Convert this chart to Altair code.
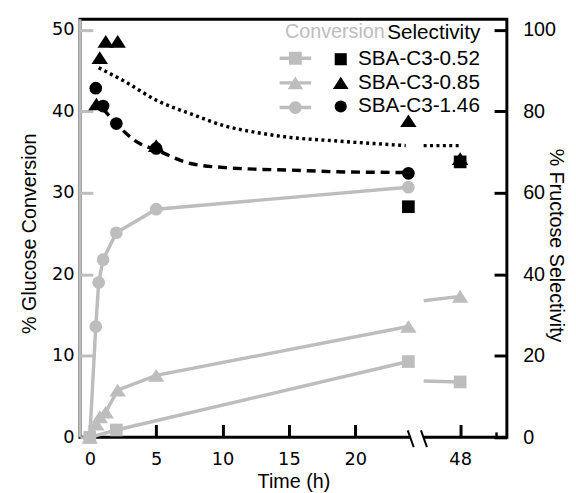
import altair as alt
import pandas as pd

# ---------------- data ----------------
SERIES = ["SBA-C3-0.52", "SBA-C3-0.85", "SBA-C3-1.46"]

# glucose conversion (%)
sq_t = [0, 2, 24, 48]
sq_conv = [0, 0.9, 9.3, 6.8]
tri_t = [0, 0.5, 0.75, 1.2, 2.1, 5, 24, 48]
tri_conv = [0, 1.6, 2.5, 3.1, 5.8, 7.6, 13.6, 17.3]
circ_t = [0, 0.45, 0.67, 1.0, 2.0, 5.0, 24]
circ_conv = [0, 13.6, 19.0, 21.8, 25.1, 28.0, 30.7]
# conversion value where the 48 h segment resumes after the axis break
resume_conv = {"SBA-C3-0.52": 6.9, "SBA-C3-0.85": 16.75}

# fructose selectivity (%)
sq_sel_t = [24, 48]
sq_sel = [56.6, 67.6]
tri_sel_t = [0.5, 0.75, 1.2, 2.1, 5, 24, 48]
tri_sel = [81.8, 93.2, 97.2, 97.2, 71.6, 77.7, 68.4]
circ_sel_t = [0.45, 1.0, 2.0, 5.0, 24]
circ_sel = [85.7, 81.3, 77.0, 70.9, 64.8]

# fitted selectivity trends
dot_t = [0.67, 2.6, 5.1, 7.6, 10.2, 12.6, 15.1, 18.3, 23.8]
dot_sel = [90.7, 87.4, 82.6, 79.4, 76.4, 74.8, 73.6, 72.8, 71.6]
dot_after = [71.6, 71.6]
dash_t = [1.0, 2.0, 3.4, 5.1, 7.6, 10.2, 12.6, 15.1, 18.3, 24]
dash_sel = [80.6, 77.0, 72.8, 70.4, 67.2, 66.2, 65.8, 65.6, 65.2, 65.0]

# axis layout
X_MIN, X_MAX = -0.74, 31.42
POS_48 = 27.9            # axis position of the 48 h tick
GAP_START, GAP_END = 24.2, 25.15
MINOR_TICK = 30.64
CONV_MAX, SEL_MAX = 51.3, 102.6
W, H = 433, 424
GRAY = "#bdbdbd"

# marker shapes (square, triangle, circle)
SHAPES = ["square", "M0,-1L1.3,1L-1.3,1Z", "circle"]


def xpos(t):
    return POS_48 if t > 24 else t


# ---------------- tables ----------------
conv_sets = [(SERIES[0], sq_t, sq_conv), (SERIES[1], tri_t, tri_conv), (SERIES[2], circ_t, circ_conv)]
conv_pts, conv_lines = [], []
for s, ts, vs in conv_sets:
    for t, v in zip(ts, vs):
        conv_pts.append({"series": s, "pos": xpos(t), "conv": v})
        if t <= 24:
            conv_lines.append({"series": s, "seg": s + "a", "pos": t, "conv": v})
    if s in resume_conv:
        conv_lines.append({"series": s, "seg": s + "b", "pos": GAP_END, "conv": resume_conv[s]})
        conv_lines.append({"series": s, "seg": s + "b", "pos": POS_48, "conv": vs[-1]})
conv_pts = pd.DataFrame(conv_pts)
conv_lines = pd.DataFrame(conv_lines)

sel_sets = [(SERIES[0], sq_sel_t, sq_sel), (SERIES[1], tri_sel_t, tri_sel), (SERIES[2], circ_sel_t, circ_sel)]
sel_pts = pd.DataFrame([{"series": s, "pos": xpos(t), "sel": v}
                        for s, ts, vs in sel_sets for t, v in zip(ts, vs)])

dot_df = pd.DataFrame(
    [{"seg": "a", "pos": t, "sel": v} for t, v in zip(dot_t, dot_sel)]
    + [{"seg": "b", "pos": p, "sel": v} for p, v in zip([GAP_END, POS_48], dot_after)]
)
dash_df = pd.DataFrame({"pos": dash_t, "sel": dash_sel})

legend_df = pd.DataFrame({"series": SERIES, "pos": [-100] * 3, "conv": [0] * 3})
gap_df = pd.DataFrame({"x1": [GAP_START], "x2": [GAP_END]})
slash_df = pd.DataFrame({"x1": [GAP_START - 0.25, GAP_END - 0.2], "x2": [GAP_START + 0.2, GAP_END + 0.25]})
minor_df = pd.DataFrame({"x1": [MINOR_TICK]})

# ---------------- scales / axes ----------------
x_scale = alt.Scale(domain=[X_MIN, X_MAX], nice=False, zero=False)
x_axis = alt.Axis(
    values=[0, 5, 10, 15, 20, POS_48],
    labelExpr="datum.value > 25 ? '48' : datum.label",
    title="Time (h)", orient="bottom", offset=-13, tickSize=13, tickWidth=3,
    tickColor="black", domain=False, grid=False, labelFont="DejaVu Sans",
    labelFontSize=18, labelColor="black", labelPadding=14,
    titleFont="Liberation Sans", titleFontSize=20, titleFontWeight="normal",
    titleColor="black", titleX=216.5, titleY=58, titleAlign="center",
    titleBaseline="middle", titleAngle=0,
)
conv_scale = alt.Scale(domain=[0, CONV_MAX], nice=False, zero=True)
conv_axis = alt.Axis(
    values=[0, 10, 20, 30, 40, 50], format="d", title="% Glucose Conversion",
    orient="left", offset=-13, tickSize=13, tickWidth=3, tickColor=GRAY,
    domain=False, grid=False, labelFont="DejaVu Sans", labelFontSize=18,
    labelColor="black", labelPadding=6, titleFont="Liberation Sans",
    titleFontSize=20, titleFontWeight="normal", titleColor="black",
    titleX=-64, titleY=217, titleAngle=270, titleAlign="center", titleBaseline="middle",
)
sel_scale = alt.Scale(domain=[0, SEL_MAX], nice=False, zero=True)
sel_axis = alt.Axis(
    values=[0, 20, 40, 60, 80, 100], format="d", title="% Fructose Selectivity",
    orient="right", offset=-13, tickSize=13, tickWidth=3, tickColor="black",
    domain=False, grid=False, labelFont="Liberation Sans", labelFontSize=20,
    labelColor="black", labelPadding=16, titleFont="Liberation Sans",
    titleFontSize=20, titleFontWeight="normal", titleColor="black",
    titleX=62, titleY=229, titleAngle=90, titleAlign="center", titleBaseline="middle",
)
X = alt.X("pos:Q", scale=x_scale, axis=x_axis)
X2 = alt.X("x1:Q", scale=x_scale, axis=x_axis)

# ---------------- conversion group (left axis) ----------------
left_line = alt.Chart(gap_df).mark_rule(color=GRAY, strokeWidth=3).encode(
    x=alt.value(0), y=alt.value(0), y2=alt.value(H)
)
gap = alt.Chart(gap_df).mark_rule(color="white", strokeWidth=6).encode(
    x=X2, x2="x2:Q", y=alt.value(H)
)
slashes = alt.Chart(slash_df).mark_rule(color="black", strokeWidth=2).encode(
    x=X2, x2="x2:Q", y=alt.value(H - 7), y2=alt.value(H + 10)
)
minor = alt.Chart(minor_df).mark_rule(color="black", strokeWidth=2.5).encode(
    x=X2, y=alt.value(H - 5), y2=alt.value(H)
)
conv_line = alt.Chart(conv_lines).mark_line(color=GRAY, strokeWidth=3.5).encode(
    x=X, y=alt.Y("conv:Q", scale=conv_scale, axis=conv_axis), detail="seg:N"
)
conv_point = alt.Chart(conv_pts).mark_point(filled=True, color=GRAY, opacity=1, size=165).encode(
    x=X, y=alt.Y("conv:Q", scale=conv_scale, axis=conv_axis),
    shape=alt.Shape("series:N", scale=alt.Scale(domain=SERIES, range=SHAPES), legend=None),
)
conv_group = alt.layer(left_line, gap, slashes, minor, conv_line, conv_point)

# ---------------- selectivity group (right axis) ----------------
dotted = alt.Chart(dot_df).mark_line(color="black", strokeWidth=3.5, strokeDash=[3, 3.5],
                                     interpolate="monotone").encode(
    x=X, y=alt.Y("sel:Q", scale=sel_scale, axis=sel_axis), detail="seg:N"
)
dashed = alt.Chart(dash_df).mark_line(color="black", strokeWidth=3.5, strokeDash=[9, 6],
                                      interpolate="monotone").encode(
    x=X, y=alt.Y("sel:Q", scale=sel_scale, axis=sel_axis)
)
sel_point = alt.Chart(sel_pts).mark_point(filled=True, color="black", opacity=1, size=165).encode(
    x=X, y=alt.Y("sel:Q", scale=sel_scale, axis=sel_axis),
    shape=alt.Shape("series:N", scale=alt.Scale(domain=SERIES, range=SHAPES),
                    legend=alt.Legend(
                        title="Selectivity", orient="none", legendX=254, legendY=3,
                        titleFont="Liberation Sans", titleFontSize=21, titleFontWeight="normal",
                        titleColor="black", titleAnchor="end", titlePadding=6,
                        labelFont="Liberation Sans", labelFontSize=21, labelColor="black",
                        labelOffset=7, symbolSize=150, symbolFillColor="black",
                        symbolStrokeWidth=0, rowPadding=2, padding=0,
                    )),
)
sel_group = alt.layer(dotted, dashed, sel_point)

# ---------------- legend for the grey conversion series ----------------
u = 10.0  # path unit in px for size 400
L, T, M = 16 / u, 1.75 / u, 6.5 / u
line_path = f"M{-L},{-T}H{L}V{T}H{-L}Z"
conv_symbols = [
    line_path + f" M{-M},{-M}H{M}V{M}H{-M}Z",
    line_path + f" M0,{-M}L{1.2 * M},{M}L{-1.2 * M},{M}Z",
    line_path + f" M{-M},0A{M},{M},0,1,1,{M},0A{M},{M},0,1,1,{-M},0Z",
]
conv_legend = alt.Chart(legend_df).mark_point(filled=True, color=GRAY, size=400, clip=True).encode(
    x=X, y=alt.Y("conv:Q", scale=conv_scale, axis=None),
    shape=alt.Shape("series:N", scale=alt.Scale(domain=SERIES, range=conv_symbols),
                    legend=alt.Legend(
                        title="Conversion", orient="none", legendX=208, legendY=3,
                        titleFont="Liberation Sans", titleFontSize=20, titleFontWeight="normal",
                        titleColor=GRAY, titlePadding=6, titleAnchor="start",
                        labelExpr="''", labelFontSize=21,
                        symbolSize=400, symbolFillColor=GRAY, symbolStrokeWidth=0,
                        symbolOpacity=1, rowPadding=3, padding=0,
                    )),
)

chart = (
    alt.layer(conv_group, sel_group, conv_legend)
    .resolve_scale(y="independent", shape="independent")
    .properties(width=W, height=H, padding={"left": 73, "top": 8, "right": 62, "bottom": 52},
                autosize=alt.AutoSizeParams(type="none"))
    .configure_view(stroke="black", strokeWidth=3)
)

chart.save("out.html", embed_options={"renderer": "svg", "actions": False})
